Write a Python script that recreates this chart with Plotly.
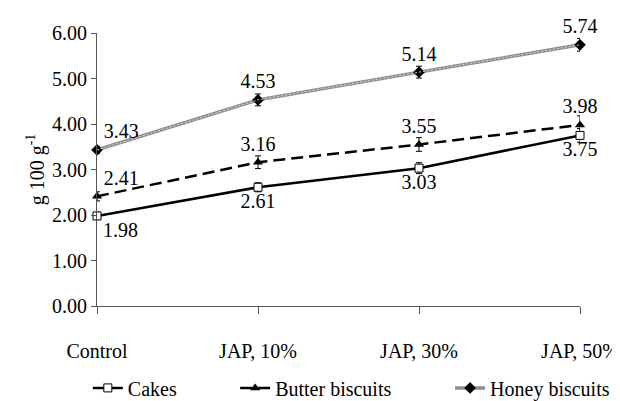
import plotly.graph_objects as go

categories = ["Control", "JAP, 10%", "JAP, 30%", "JAP, 50%"]

cakes = [1.98, 2.61, 3.03, 3.75]
cakes_err = [0.08, 0.10, 0.12, 0.15]

butter = [2.41, 3.16, 3.55, 3.98]
butter_err = [0.10, 0.14, 0.15, 0.20]

honey = [3.43, 4.53, 5.14, 5.74]
honey_err = [0.08, 0.13, 0.13, 0.14]

font_family = "Liberation Serif"
fs = 20

fig = go.Figure()

# Honey biscuits - grey textured line
fig.add_trace(
    go.Scatter(
        x=categories,
        y=honey,
        name="Honey biscuits",
        mode="lines+markers+text",
        line=dict(color="#8f8f8f", width=3.5),
        marker=dict(symbol="diamond", size=9, color="black"),
        error_y=dict(type="data", array=honey_err, color="black", thickness=1, width=3),
        text=[f"{v:.2f}" for v in honey],
        textposition=["top right", "top center", "top center", "top center"],
        textfont=dict(family=font_family, size=fs, color="black"),
        cliponaxis=False,
        legend="legend3",
    )
)
# light overlay for the textured look
fig.add_trace(
    go.Scatter(
        x=categories,
        y=honey,
        mode="lines",
        line=dict(color="#d8d8d8", width=1, dash="2px,2px"),
        showlegend=False,
        hoverinfo="skip",
        cliponaxis=False,
    )
)

fig.add_trace(
    go.Scatter(
        x=categories,
        y=butter,
        name="Butter biscuits",
        mode="lines+markers+text",
        line=dict(color="black", width=2.5, dash="12px,6px"),
        marker=dict(symbol="triangle-up", size=9, color="black"),
        error_y=dict(type="data", array=butter_err, color="black", thickness=1, width=3),
        text=[f"{v:.2f}" for v in butter],
        textposition=["top right", "top center", "top center", "top center"],
        textfont=dict(family=font_family, size=fs, color="black"),
        cliponaxis=False,
        legend="legend2",
    )
)

fig.add_trace(
    go.Scatter(
        x=categories,
        y=cakes,
        name="Cakes",
        mode="lines+markers+text",
        line=dict(color="black", width=2.5),
        marker=dict(symbol="square", size=8, color="white", line=dict(color="black", width=1)),
        error_y=dict(type="data", array=cakes_err, color="black", thickness=1, width=3),
        text=[f"{v:.2f}" for v in cakes],
        textposition=["bottom right", "bottom center", "bottom center", "bottom center"],
        textfont=dict(family=font_family, size=fs, color="black"),
        cliponaxis=False,
        legend="legend",
    )
)

leg_common = dict(
    orientation="h",
    xanchor="left",
    y=-0.30,
    yanchor="middle",
    font=dict(family=font_family, size=fs),
    bgcolor="rgba(0,0,0,0)",
)

# the page body adds an 8px offset, so the figure is sized to fit the window
fig.update_layout(
    width=612,
    height=393,
    margin=dict(l=89, r=40, t=25, b=95, autoexpand=False),
    plot_bgcolor="white",
    paper_bgcolor="white",
    font=dict(family=font_family, size=fs, color="black"),
    showlegend=True,
    legend=dict(x=-0.019, **leg_common),
    legend2=dict(x=0.286, **leg_common),
    legend3=dict(x=0.731, **leg_common),
    xaxis=dict(
        type="category",
        range=[0, 3],
        automargin=False,
        showgrid=False,
        showline=True,
        linecolor="#555",
        linewidth=1,
        ticks="outside",
        ticklen=7,
        tickcolor="#555",
        ticklabelstandoff=20,
        zeroline=False,
        tickfont=dict(family=font_family, size=fs),
    ),
    yaxis=dict(
        range=[0, 6],
        dtick=1,
        tickformat=".2f",
        automargin=False,
        showgrid=False,
        showline=True,
        linecolor="#555",
        linewidth=1,
        ticks="outside",
        ticklen=5,
        tickcolor="#555",
        zeroline=False,
        tickfont=dict(family=font_family, size=fs),
        title=dict(text="g 100 g<sup>-1</sup>", standoff=2,
                   font=dict(family=font_family, size=fs)),
    ),
)

fig.write_html("out.html")
